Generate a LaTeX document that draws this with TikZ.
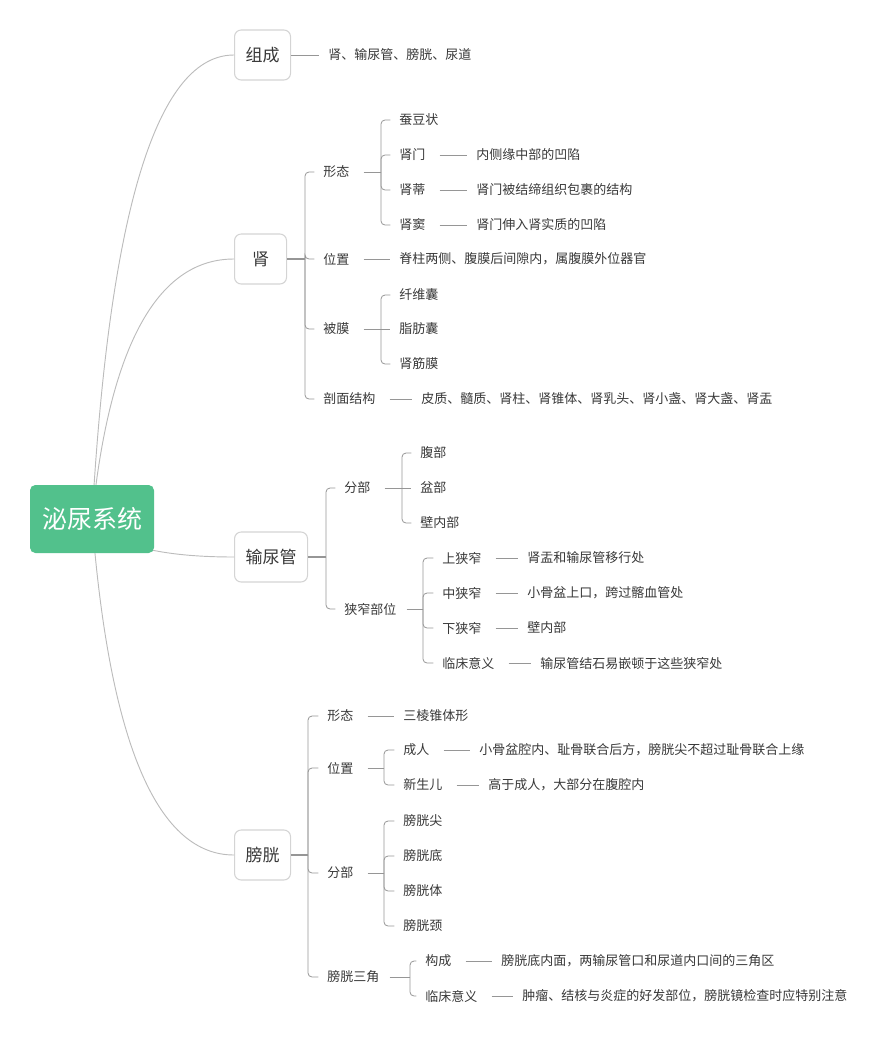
\documentclass[tikz,border=0pt]{standalone}
\usepackage{fontspec}
\setmainfont{Noto Sans CJK SC}
\usepackage{tikz}
\definecolor{rootc}{RGB}{82,193,140}
\definecolor{linec}{RGB}{150,150,150}
\definecolor{curvec}{RGB}{188,188,188}
\definecolor{boxc}{RGB}{212,212,212}
\definecolor{textc}{RGB}{56,56,56}

\tikzset{
  rootbox/.style={fill=rootc, rounded corners=4pt, text=white,
    font=\fontsize{18.75}{20}\selectfont, minimum width=93pt, minimum height=51pt},
  topicbox/.style={draw=boxc, line width=0.8pt, rounded corners=5pt, fill=white,
    anchor=west, text=textc, font=\fontsize{12.75}{14}\selectfont,
    minimum width=39pt, minimum height=37.5pt, inner xsep=8.25pt},
  leaf/.style={anchor=west, inner xsep=0pt, inner ysep=2pt, text=textc,
    font=\fontsize{9.75}{11}\selectfont},
  curve/.style={draw=curvec, line width=0.7pt},
  tree/.style={draw=linec, line width=0.6pt, rounded corners=3pt, shorten >=6.5pt},
  lnk/.style={draw=linec, line width=0.6pt, shorten <=10.5pt, shorten >=6.75pt},
}

\begin{document}
\begin{tikzpicture}[x=0.75pt, y=-0.75pt]
\useasboundingbox (0,0) rectangle (887,1039);

% first level
\node[topicbox] (zc)   at (234,55)  {组成};
\node[topicbox] (shen) at (234,259) {肾};
\node[topicbox] (snq)  at (234,557) {输尿管};
\node[topicbox] (pg)   at (234,855) {膀胱};

% root and its curves (root drawn last, covers the curve ends)
\coordinate (sysc) at (92,519);
\draw[curve] (sysc) .. controls (110,199) and (160,55) .. (zc.west);
\draw[curve] (sysc) .. controls (110,340) and (160,259) .. (shen.west);
\draw[curve] (sysc) .. controls (110,545) and (160,557) .. (snq.west);
\draw[curve] (sysc) .. controls (110,751) and (160,855) .. (pg.west);
\node[rootbox] (sys) at (sysc) {泌尿系统};

% 组成
\node[leaf] (zc-a) at (328,55) {肾、输尿管、膀胱、尿道};
\draw[lnk, shorten <=0pt] (zc.east) -- (zc-a.west);

% 肾
\node[leaf] (xt) at (323,172) {形态};
\node[leaf] (wz) at (323,259) {位置};
\node[leaf] (bm) at (323,329) {被膜};
\node[leaf] (pm) at (323,399) {剖面结构};
\coordinate (shen-j) at (305,259);
\draw[tree, line width=1pt, shorten >=0pt] (shen.east) -- (shen-j);
\foreach \c in {xt,wz,bm,pm}
  \draw[tree] (shen-j) |- (\c.west);

\node[leaf] (cdz)  at (399,120) {蚕豆状};
\node[leaf] (sm)   at (399,155) {肾门};
\node[leaf] (sdi)  at (399,190) {肾蒂};
\node[leaf] (sdou) at (399,225) {肾窦};
\coordinate (xt-j) at (381,172);
\draw[lnk, shorten >=0pt] (xt.east) -- (xt-j);
\foreach \c in {cdz,sm,sdi,sdou}
  \draw[tree] (xt-j) |- (\c.west);
\node[leaf] (sm-a)   at (476,155) {内侧缘中部的凹陷};
\node[leaf] (sdi-a)  at (476,190) {肾门被结缔组织包裹的结构};
\node[leaf] (sdou-a) at (476,225) {肾门伸入肾实质的凹陷};
\draw[lnk] (sm.east) -- (sm-a.west);
\draw[lnk] (sdi.east) -- (sdi-a.west);
\draw[lnk] (sdou.east) -- (sdou-a.west);

\node[leaf] (wz-a) at (399,259) {脊柱两侧、腹膜后间隙内，属腹膜外位器官};
\draw[lnk] (wz.east) -- (wz-a.west);

\node[leaf] (xwn) at (399,295) {纤维囊};
\node[leaf] (zfn) at (399,329) {脂肪囊};
\node[leaf] (sjm) at (399,364) {肾筋膜};
\coordinate (bm-j) at (381,329);
\draw[lnk, shorten >=0pt] (bm.east) -- (bm-j);
\draw[tree] (bm-j) |- (xwn.west);
\draw[tree] (bm-j) -- (zfn.west);
\draw[tree] (bm-j) |- (sjm.west);

\node[leaf] (pm-a) at (421,399) {皮质、髓质、肾柱、肾锥体、肾乳头、肾小盏、肾大盏、肾盂};
\draw[lnk] (pm.east) -- (pm-a.west);

% 输尿管
\node[leaf] (fb) at (344,488) {分部};
\node[leaf] (xz) at (344,609) {狭窄部位};
\coordinate (snq-j) at (326,557);
\draw[tree, line width=1pt, shorten >=0pt] (snq.east) -- (snq-j);
\foreach \c in {fb,xz}
  \draw[tree] (snq-j) |- (\c.west);

\node[leaf] (fbb) at (420,453) {腹部};
\node[leaf] (pb)  at (420,488) {盆部};
\node[leaf] (bnb) at (420,523) {壁内部};
\coordinate (fb-j) at (402,488);
\draw[lnk, shorten >=0pt] (fb.east) -- (fb-j);
\draw[tree] (fb-j) |- (fbb.west);
\draw[tree] (fb-j) -- (pb.west);
\draw[tree] (fb-j) |- (bnb.west);

\node[leaf] (sx) at (442,558) {上狭窄};
\node[leaf] (zx) at (442,593) {中狭窄};
\node[leaf] (xx) at (442,628) {下狭窄};
\node[leaf] (lc) at (442,663) {临床意义};
\coordinate (xz-j) at (423,609);
\draw[lnk, shorten <=7.5pt, shorten >=0pt] (xz.east) -- (xz-j);
\foreach \c in {sx,zx,xx,lc}
  \draw[tree] (xz-j) |- (\c.west);
\node[leaf] (sx-a) at (527,558) {肾盂和输尿管移行处};
\node[leaf] (zx-a) at (527,593) {小骨盆上口，跨过髂血管处};
\node[leaf] (xx-a) at (527,628) {壁内部};
\node[leaf] (lc-a) at (540,663) {输尿管结石易嵌顿于这些狭窄处};
\foreach \c in {sx,zx,xx,lc}
  \draw[lnk] (\c.east) -- (\c-a.west);

% 膀胱
\node[leaf] (pxt) at (327,716) {形态};
\node[leaf] (pwz) at (327,768) {位置};
\node[leaf] (pfb) at (327,873) {分部};
\node[leaf] (sj)  at (327,977) {膀胱三角};
\coordinate (pg-j) at (308,855);
\draw[tree, line width=1pt, shorten >=0pt] (pg.east) -- (pg-j);
\foreach \c in {pxt,pwz,pfb,sj}
  \draw[tree] (pg-j) |- (\c.west);

\node[leaf] (pxt-a) at (403,716) {三棱锥体形};
\draw[lnk] (pxt.east) -- (pxt-a.west);

\node[leaf] (cr)  at (403,750) {成人};
\node[leaf] (xse) at (403,785) {新生儿};
\coordinate (pwz-j) at (384,768);
\draw[lnk, shorten >=0pt] (pwz.east) -- (pwz-j);
\foreach \c in {cr,xse}
  \draw[tree] (pwz-j) |- (\c.west);
\node[leaf] (cr-a)  at (479,750) {小骨盆腔内、耻骨联合后方，膀胱尖不超过耻骨联合上缘};
\node[leaf] (xse-a) at (488,785) {高于成人，大部分在腹腔内};
\foreach \c in {cr,xse}
  \draw[lnk] (\c.east) -- (\c-a.west);

\node[leaf] (pgj) at (403,821) {膀胱尖};
\node[leaf] (pgd) at (403,856) {膀胱底};
\node[leaf] (pgt) at (403,891) {膀胱体};
\node[leaf] (pgx) at (403,926) {膀胱颈};
\coordinate (pfb-j) at (384,873);
\draw[lnk, shorten >=0pt] (pfb.east) -- (pfb-j);
\foreach \c in {pgj,pgd,pgt,pgx}
  \draw[tree] (pfb-j) |- (\c.west);

\node[leaf] (gc)  at (425,961) {构成};
\node[leaf] (lcy) at (425,996) {临床意义};
\coordinate (sj-j) at (410,977);
\draw[lnk, shorten <=7.5pt, shorten >=0pt] (sj.east) -- (sj-j);
\foreach \c in {gc,lcy}
  \draw[tree] (sj-j) |- (\c.west);
\node[leaf] (gc-a)  at (501,961) {膀胱底内面，两输尿管口和尿道内口间的三角区};
\node[leaf] (lcy-a) at (522,996) {肿瘤、结核与炎症的好发部位，膀胱镜检查时应特别注意};
\foreach \c in {gc,lcy}
  \draw[lnk] (\c.east) -- (\c-a.west);
\end{tikzpicture}
\end{document}
